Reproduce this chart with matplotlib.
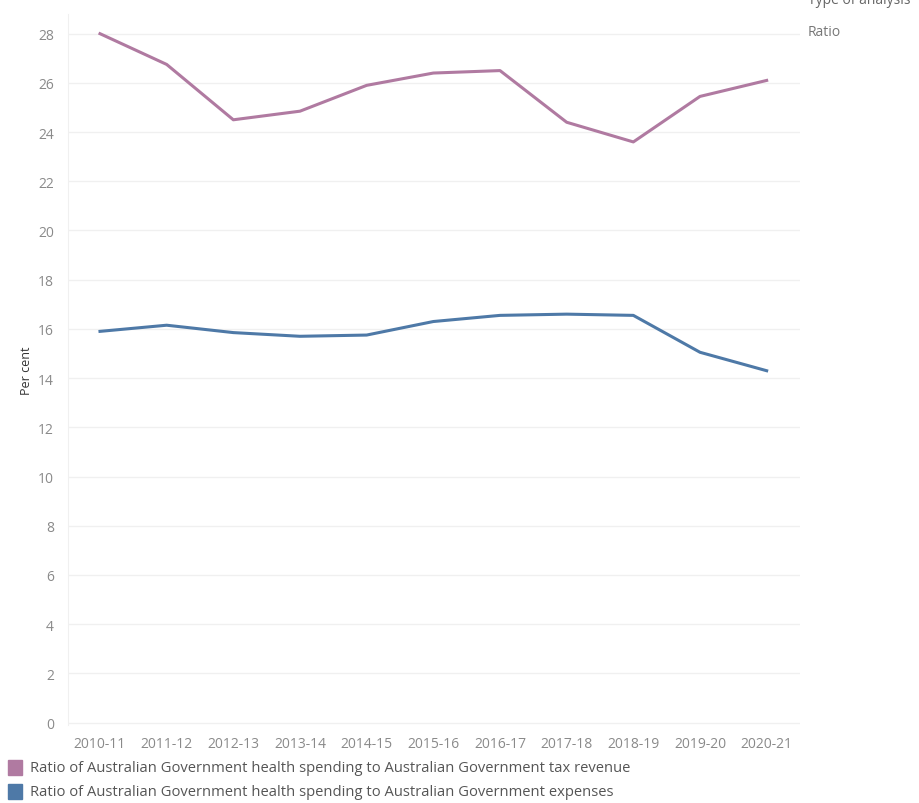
import matplotlib
matplotlib.use("Agg")
import matplotlib.pyplot as plt
from matplotlib.patches import Rectangle

# data
years = ["2010-11", "2011-12", "2012-13", "2013-14", "2014-15", "2015-16",
         "2016-17", "2017-18", "2018-19", "2019-20", "2020-21"]
tax_revenue = [28.0, 26.75, 24.5, 24.85, 25.9, 26.4, 26.5, 24.4, 23.6, 25.45, 26.1]
expenses = [15.9, 16.15, 15.85, 15.7, 15.75, 16.3, 16.55, 16.6, 16.55, 15.05, 14.3]
yticks = list(range(0, 30, 2))
legend_labels = [
    "Ratio of Australian Government health spending to Australian Government tax revenue",
    "Ratio of Australian Government health spending to Australian Government expenses",
]
colors = ["#b07aa1", "#4e79a7"]

plt.rcParams['font.family'] = ['Open Sans', 'DejaVu Sans']

fig = plt.figure(figsize=(9.2, 8.04), dpi=100)
ax = fig.add_axes([68/920, 1 - 726/804, 732/920, 711/804])

x = range(len(years))
ax.plot(x, tax_revenue, color=colors[0], lw=2.2, solid_joinstyle="round")
ax.plot(x, expenses, color=colors[1], lw=2.2, solid_joinstyle="round")

ax.set_xlim(-0.48, 10.5)
ax.set_ylim(-0.1, 28.8)
ax.set_xticks(list(x))
ax.set_xticklabels(years)
ax.set_yticks(yticks)
ax.tick_params(length=0, labelsize=10, colors="#8a8a8a", pad=10)
ax.tick_params(axis="x", pad=8)
ax.grid(axis="y", color="#f0f0f0", lw=1)
ax.set_axisbelow(True)
for s in ["top", "right", "bottom"]:
    ax.spines[s].set_visible(False)
ax.spines["left"].set_color("#f0f0f0")

ax.set_ylabel("Per cent", fontsize=9, color="#333333", labelpad=4)

# clipped filter title and value at top right
fig.text(808/920, 1 - 4/804, "Type of analysis", fontsize=10, color="#666666",
         ha="left", va="baseline")
fig.text(808/920, 1 - 32/804, "Ratio", fontsize=10, color="#777777",
         ha="left", va="center")

# legend at bottom
for i, (lab, c) in enumerate(zip(legend_labels, colors)):
    yc = 769 + i * 24
    fig.patches.append(Rectangle((8/920, 1 - (yc + 7)/804), 14/920, 15/804,
                                 transform=fig.transFigure, color=c, figure=fig))
    fig.text(30/920, 1 - yc/804, lab, fontsize=10.6, color="#555555",
             ha="left", va="center")

fig.savefig("out.png", dpi=100, facecolor="white")
